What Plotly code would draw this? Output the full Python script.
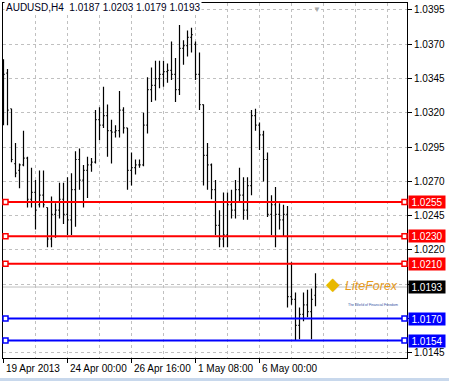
import plotly.graph_objects as go

symbol = "AUDUSD,H4"

opens = [1.0329, 1.0349, 1.0323, 1.0283, 1.0278, 1.0282, 1.0287, 1.0257, 1.0262, 1.0253,
         1.0260, 1.0251, 1.0228, 1.0246, 1.0249, 1.0257, 1.0246, 1.0242, 1.0264, 1.0286,
         1.0271, 1.0278, 1.0282, 1.0284, 1.0315, 1.0311, 1.0318, 1.0307, 1.0306, 1.0307,
         1.0322, 1.0309, 1.0278, 1.0280, 1.0282, 1.0282, 1.0311, 1.0337, 1.0340, 1.0345,
         1.0348, 1.0350, 1.0351, 1.0348, 1.0337, 1.0367, 1.0369, 1.0375, 1.0370, 1.0348,
         1.0326, 1.0289, 1.0282, 1.0264, 1.0238, 1.0228, 1.0231, 1.0253, 1.0249, 1.0264,
         1.0260, 1.0249, 1.0267, 1.0318, 1.0311, 1.0304, 1.0286, 1.0246, 1.0253, 1.0246,
         1.0242, 1.0246, 1.0186, 1.0184, 1.0165, 1.0173, 1.0180, 1.0175, 1.0187]
highs = [1.0359, 1.0352, 1.0323, 1.0298, 1.0283, 1.0307, 1.0288, 1.0280, 1.0271, 1.0278,
         1.0278, 1.0251, 1.0259, 1.0254, 1.0269, 1.0269, 1.0273, 1.0276, 1.0292, 1.0294,
         1.0282, 1.0288, 1.0287, 1.0322, 1.0324, 1.0339, 1.0326, 1.0315, 1.0311, 1.0336,
         1.0324, 1.0309, 1.0291, 1.0286, 1.0286, 1.0320, 1.0346, 1.0353, 1.0358, 1.0358,
         1.0358, 1.0356, 1.0372, 1.0360, 1.0384, 1.0373, 1.0380, 1.0382, 1.0372, 1.0364,
         1.0326, 1.0298, 1.0283, 1.0271, 1.0249, 1.0262, 1.0262, 1.0264, 1.0271, 1.0280,
         1.0273, 1.0273, 1.0322, 1.0323, 1.0313, 1.0307, 1.0291, 1.0260, 1.0266, 1.0254,
         1.0253, 1.0252, 1.0211, 1.0189, 1.0178, 1.0189, 1.0191, 1.0192, 1.0203]
lows = [1.0311, 1.0311, 1.0284, 1.0273, 1.0265, 1.0281, 1.0251, 1.0251, 1.0235, 1.0251,
        1.0251, 1.0222, 1.0222, 1.0229, 1.0243, 1.0239, 1.0231, 1.0231, 1.0237, 1.0264,
        1.0251, 1.0258, 1.0277, 1.0283, 1.0300, 1.0309, 1.0288, 1.0283, 1.0302, 1.0302,
        1.0305, 1.0264, 1.0267, 1.0275, 1.0280, 1.0281, 1.0305, 1.0328, 1.0329, 1.0338,
        1.0339, 1.0342, 1.0344, 1.0328, 1.0333, 1.0355, 1.0361, 1.0364, 1.0344, 1.0322,
        1.0267, 1.0264, 1.0257, 1.0231, 1.0222, 1.0222, 1.0222, 1.0243, 1.0243, 1.0255,
        1.0242, 1.0242, 1.0260, 1.0307, 1.0293, 1.0270, 1.0244, 1.0231, 1.0222, 1.0235,
        1.0230, 1.0178, 1.0180, 1.0154, 1.0155, 1.0168, 1.0171, 1.0155, 1.0179]
closes = [1.0348, 1.0322, 1.0286, 1.0276, 1.0282, 1.0287, 1.0257, 1.0262, 1.0249, 1.0260,
          1.0253, 1.0228, 1.0246, 1.0249, 1.0257, 1.0246, 1.0242, 1.0264, 1.0286, 1.0271,
          1.0278, 1.0282, 1.0284, 1.0315, 1.0311, 1.0318, 1.0307, 1.0306, 1.0307, 1.0322,
          1.0309, 1.0278, 1.0280, 1.0282, 1.0282, 1.0311, 1.0337, 1.0340, 1.0345, 1.0348,
          1.0350, 1.0351, 1.0348, 1.0337, 1.0367, 1.0369, 1.0375, 1.0377, 1.0348, 1.0326,
          1.0289, 1.0282, 1.0264, 1.0238, 1.0228, 1.0231, 1.0253, 1.0249, 1.0264, 1.0260,
          1.0249, 1.0267, 1.0318, 1.0311, 1.0304, 1.0286, 1.0246, 1.0253, 1.0246, 1.0242,
          1.0246, 1.0186, 1.0184, 1.0165, 1.0173, 1.0180, 1.0175, 1.0184, 1.0193]

x_tick_idx = [0, 16, 32, 48, 64]
x_tick_text = ["19 Apr 2013", "24 Apr 00:00", "26 Apr 16:00", "1 May 08:00", "6 May 00:00"]
y_tick_vals = [1.0145, 1.0170, 1.0195, 1.0220, 1.0245, 1.0270, 1.0295, 1.0320, 1.0345, 1.0370, 1.0395]
# labels hidden behind the price boxes in the original are left blank
y_tick_text = ["1.0145", "", "", "1.0220", "1.0245", "1.0270", "1.0295", "1.0320", "1.0345", "1.0370", "1.0395"]

red_levels = [1.0255, 1.0230, 1.0210]
blue_levels = [1.0170, 1.0154]

FONT = "Liberation Sans, Arial, sans-serif"
GRID = "#c0c0c0"

x = list(range(len(opens)))

fig = go.Figure()
fig.add_trace(go.Ohlc(
    x=x, open=opens, high=highs, low=lows, close=closes,
    increasing=dict(line=dict(color="black", width=1.2)),
    decreasing=dict(line=dict(color="black", width=1.2)),
    tickwidth=0.3, hoverinfo="skip", showlegend=False,
))

shapes = []
annotations = []

# current price (bid) line
bid = closes[-1]
shapes.append(dict(type="line", xref="paper", x0=0, x1=1, yref="y", y0=bid, y1=bid,
                   line=dict(color=GRID, width=1), layer="below"))

def level(val, color):
    shapes.append(dict(type="line", xref="paper", x0=0, x1=1, yref="y", y0=val, y1=val,
                       line=dict(color=color, width=2)))
    for anchor, a0, a1 in ((0, 0, 5), (1, -5, 0)):
        shapes.append(dict(type="rect", xref="paper", xsizemode="pixel", xanchor=anchor,
                           x0=a0, x1=a1, yref="y", ysizemode="pixel", yanchor=val,
                           y0=-2.5, y1=2.5, fillcolor="white",
                           line=dict(color=color, width=1.5)))
    annotations.append(dict(xref="paper", x=1, xanchor="left", xshift=1, yref="y", y=val,
                            text=f"{val:.4f}", showarrow=False, bgcolor=color,
                            font=dict(family=FONT, size=10, color="white"),
                            width=34, height=10, borderpad=1, align="center"))

for v in red_levels:
    level(v, "#ff0000")
for v in blue_levels:
    level(v, "#0000ff")

annotations.append(dict(xref="paper", x=1, xanchor="left", xshift=1, yref="y", y=bid,
                        text=f"{bid:.4f}", showarrow=False, bgcolor="black",
                        font=dict(family=FONT, size=10, color="white"),
                        width=34, height=10, borderpad=1, align="center"))

# x tick labels, left aligned at their tick
for xi, t in zip(x_tick_idx, x_tick_text):
    annotations.append(dict(xref="x", x=xi, xanchor="left", xshift=0, yref="paper", y=0,
                            yanchor="top", yshift=-3, text=t, showarrow=False,
                            font=dict(family=FONT, size=10, color="black")))

# title
annotations.append(dict(xref="paper", x=0, xanchor="left", xshift=1, yref="paper", y=1,
                        yanchor="top", yshift=3,
                        text=f"{symbol}  {opens[-1]:.4f} {highs[-1]:.4f} {lows[-1]:.4f} {closes[-1]:.4f}",
                        showarrow=False, bgcolor="white", borderpad=1,
                        font=dict(family=FONT, size=10, color="#000020")))

# chart shift marker
annotations.append(dict(xref="paper", x=0.792, yref="paper", y=1, yanchor="top", yshift=2,
                        text="▼", showarrow=False, font=dict(size=8, color="#a8a8a8")))

# watermark logo
annotations.append(dict(xref="paper", x=0.817, xanchor="center", yref="paper", y=0.172,
                        text="<span style='color:#e8b800'>◆</span>", showarrow=False,
                        font=dict(size=18, color="#e8b800")))
annotations.append(dict(xref="paper", x=0.842, xanchor="left", yref="paper", y=0.178,
                        text="<i>LiteForex</i>", showarrow=False,
                        font=dict(family=FONT, size=12.5, color="#e89a1a")))
annotations.append(dict(xref="paper", x=0.848, xanchor="left", yref="paper", y=0.138,
                        text="The World of Financial Freedom", showarrow=False,
                        font=dict(family=FONT, size=3.5, color="#3050a0")))

# bottom tab strip
shapes.append(dict(type="rect", xref="paper", x0=-0.02, x1=1.12, yref="paper",
                   y0=-0.075, y1=-0.0565, fillcolor="#c8d8ec", line=dict(width=0)))

fig.update_layout(
    width=449, height=381,
    margin=dict(l=3, r=42, t=3, b=23),
    paper_bgcolor="white", plot_bgcolor="white",
    shapes=shapes, annotations=annotations,
    showlegend=False,
    xaxis=dict(
        range=[-0.125, 100.875], rangeslider=dict(visible=False),
        tickmode="array", tickvals=x_tick_idx, showticklabels=False,
        ticks="outside", ticklen=4, tickcolor="black",
        showline=True, linecolor="black", linewidth=1, mirror=True,
        showgrid=True, gridcolor=GRID, griddash="3px,3px", gridwidth=1,
        minor=dict(tick0=0, dtick=8, showgrid=True, gridcolor=GRID,
                   griddash="3px,3px", ticks=""),
        zeroline=False, fixedrange=True,
    ),
    yaxis=dict(
        side="right", range=[1.014124, 1.04001],
        tickmode="array", tickvals=y_tick_vals, ticktext=y_tick_text,
        ticks="outside", ticklen=4, tickcolor="black",
        tickfont=dict(family=FONT, size=10, color="black"),
        showline=True, linecolor="black", linewidth=1, mirror=True,
        showgrid=True, gridcolor=GRID, griddash="3px,3px", gridwidth=1,
        zeroline=False, fixedrange=True,
    ),
)

fig.write_html("out.html")
